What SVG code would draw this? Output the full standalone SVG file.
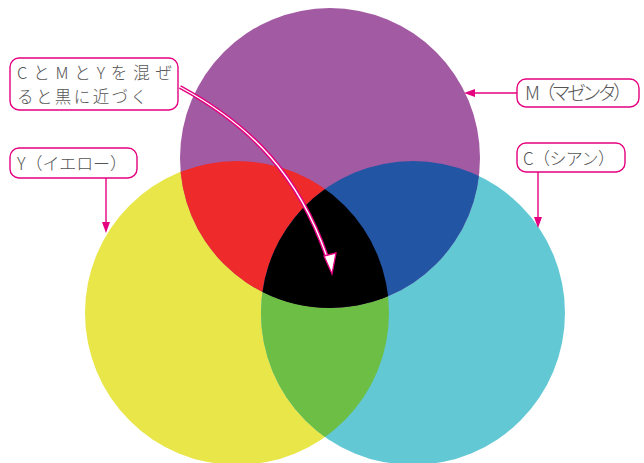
<svg xmlns="http://www.w3.org/2000/svg" width="644" height="463" viewBox="0 0 644 463">
<style>
.box{fill:#fff;stroke:#E4007F;stroke-width:1.4}
.lbl{font-family:"Noto Sans CJK JP","Noto Sans",sans-serif;fill:#555;font-size:19px;font-weight:300}
.sm{font-size:17px}
.nt{font-size:16.5px}
.ln{stroke:#E4007F;stroke-width:1.4;fill:none}
.ah{fill:#E4007F}
</style>
<defs>
<clipPath id="cM"><circle cx="330" cy="158" r="150"/></clipPath>
<clipPath id="cC"><circle cx="413" cy="313" r="152"/></clipPath>
<clipPath id="cCM" clip-path="url(#cM)"><circle cx="413" cy="313" r="152"/></clipPath>
<filter id="soft" x="-5%" y="-5%" width="110%" height="110%"><feGaussianBlur stdDeviation="0.7"/></filter>
</defs>
<rect width="644" height="463" fill="#fff"/>
<g id="venn" filter="url(#soft)">
<circle cx="237" cy="313" r="152" fill="#E8E64A"/>
<circle cx="413" cy="313" r="152" fill="#62C8D4"/>
<circle cx="330" cy="158" r="150" fill="#A25AA3"/>
<circle cx="237" cy="313" r="152" fill="#6DBE45" clip-path="url(#cC)"/>
<circle cx="237" cy="313" r="152" fill="#EE2A2A" clip-path="url(#cM)"/>
<circle cx="413" cy="313" r="152" fill="#2455A4" clip-path="url(#cM)"/>
<circle cx="237" cy="313" r="152" fill="#000" clip-path="url(#cCM)"/>
</g>
<g id="connectors">
<path d="M180,87 C250,125 300,175 329,263" stroke="#E4007F" stroke-width="4.2" fill="none"/>
<path d="M180,87 C250,125 300,175 329,263" stroke="#fff" stroke-width="1.4" fill="none"/>
<polygon points="332,274 324,256 336,253" fill="#fff" stroke="#E4007F" stroke-width="1.3"/>
<line class="ln" x1="517" y1="93" x2="472" y2="93"/>
<polygon class="ah" points="464,93 475,89 475,97"/>
<line class="ln" x1="106" y1="178" x2="106" y2="224"/>
<polygon class="ah" points="106,233 102,222 110,222"/>
<line class="ln" x1="538" y1="172" x2="538" y2="219"/>
<polygon class="ah" points="538,228 534,217 542,217"/>
</g>
<g id="note">
<rect class="box" x="10" y="58" width="168" height="52" rx="9"/>
<text class="lbl nt" x="17" y="79" textLength="155" lengthAdjust="spacing">CとMとYを混ぜ</text>
<text class="lbl nt" x="17" y="103" textLength="130" lengthAdjust="spacing">ると黒に近づく</text>
</g>
<g id="labelM">
<rect class="box" x="517" y="79" width="122" height="28" rx="9"/>
<text class="lbl" x="525" y="100" textLength="107" lengthAdjust="spacing">M（マゼンタ）</text>
</g>
<g id="labelY">
<rect class="box" x="10" y="148" width="127" height="30" rx="9"/>
<text class="lbl sm" x="17" y="170" textLength="110" lengthAdjust="spacing">Y（イエロー）</text>
</g>
<g id="labelC">
<rect class="box" x="517" y="143" width="108" height="29" rx="9"/>
<text class="lbl sm" x="523" y="165" textLength="92" lengthAdjust="spacing">C（シアン）</text>
</g>
</svg>
